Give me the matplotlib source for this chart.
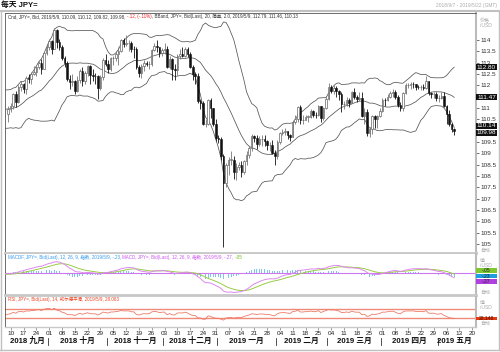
import numpy as np
import pandas as pd
import matplotlib
matplotlib.use("Agg")
import matplotlib.pyplot as plt
import matplotlib.transforms as mtrans
from matplotlib.patches import Rectangle
from matplotlib.lines import Line2D

# ---------------- data (JPY= daily, 2018/9/7 - 2019/5/9) ----------------
start_date = "2018-09-07"
end_date = "2019-05-09"
axis_end_date = "2019-05-24"

open_ = [110.72, 110.97, 111.10, 111.62, 111.28, 111.92, 112.06, 111.85, 112.33, 112.28,
         112.49, 112.59, 112.80, 112.97, 112.72, 113.42,
         113.69, 113.94, 113.62, 114.45, 113.92, 113.71, 113.22, 112.97, 112.28, 112.16,
         112.20, 111.76, 112.25, 112.65, 112.18, 112.54, 112.84, 112.44, 112.41, 112.40,
         111.90, 112.36, 113.11,
         112.93, 112.72, 113.20, 113.21, 113.40, 113.53, 113.99, 113.82, 113.85, 113.85,
         113.61, 113.59, 112.82, 112.55, 112.83, 113.00, 112.93, 112.96, 113.55, 113.75,
         113.67, 113.44,
         113.55, 113.60, 112.80, 113.18, 112.70, 112.67, 113.30, 113.37, 113.31, 113.60,
         113.38, 112.82, 112.50, 112.43, 111.30, 111.22, 110.28, 110.30, 111.35, 110.98,
         110.28,
         109.69, 109.62, 108.88, 107.68, 108.48, 108.72, 108.72, 108.16, 108.40, 108.50,
         108.18, 108.66, 108.94, 109.22, 109.78, 109.66, 109.39, 109.62, 109.63, 109.54,
         109.35, 109.38, 109.03,
         108.88, 109.50, 109.90, 109.96, 109.97, 109.80, 109.73, 110.40, 110.50, 111.05,
         110.47, 110.47, 110.62, 110.62, 110.85, 110.70, 110.69, 111.07, 110.56, 111.00,
         111.39, 111.92, 111.75, 111.88, 111.75, 111.60, 111.16, 111.18, 111.35, 111.21,
         111.70, 111.48, 111.41, 111.43, 110.65, 110.83, 109.91, 110.07, 110.64, 110.50,
         110.64,
         110.85, 111.35, 111.34, 111.49, 111.64, 111.72, 111.47, 111.14, 110.99, 111.64,
         112.00, 112.02, 112.06, 112.04, 111.93, 111.92, 111.93, 111.87, 112.19, 111.64,
         111.60, 111.62,
         111.42, 111.42, 111.52, 111.10, 110.72, 110.28, 110.09]
high = [111.09, 111.22, 111.65, 111.73, 112.00, 112.17, 112.12, 112.40, 112.50, 112.60,
        112.87, 112.83, 113.05, 113.14, 113.48, 113.82,
        114.05, 114.01, 114.55, 114.50, 114.05, 113.80, 113.30, 113.05, 112.45, 112.50,
        112.25, 112.40, 112.73, 112.80, 112.62, 112.90, 112.90, 112.70, 112.55, 112.45,
        112.45, 113.20, 113.38,
        113.10, 113.25, 113.30, 113.50, 113.70, 114.05, 114.09, 114.20, 114.00, 113.95,
        113.75, 113.68, 112.90, 112.95, 113.10, 113.05, 113.05, 113.60, 113.85, 114.00,
        113.70, 113.65,
        113.85, 113.75, 113.30, 113.20, 112.95, 113.40, 113.60, 113.70, 113.70, 113.70,
        113.45, 112.90, 112.60, 112.55, 111.40, 111.30, 110.50, 111.40, 111.45, 111.00,
        110.50,
        109.80, 109.70, 108.95, 108.55, 108.85, 109.10, 108.90, 108.55, 108.60, 108.65,
        108.70, 109.10, 109.30, 109.85, 109.80, 109.80, 109.75, 109.80, 109.80, 109.60,
        109.50, 109.60, 109.15,
        109.60, 109.95, 110.05, 110.10, 110.00, 109.85, 110.45, 110.70, 111.10, 111.15,
        110.70, 110.70, 110.70, 110.95, 110.90, 110.80, 111.15, 111.10, 111.05, 111.50,
        112.10, 112.00, 112.00, 111.95, 111.80, 111.70, 111.30, 111.50, 111.45, 111.75,
        111.90, 111.55, 111.70, 111.70, 111.00, 110.95, 110.15, 110.70, 110.70, 110.70,
        111.00,
        111.45, 111.45, 111.60, 111.75, 111.85, 111.80, 111.55, 111.25, 111.70, 112.10,
        112.10, 112.15, 112.15, 112.05, 112.00, 112.00, 112.05, 112.40, 112.20, 111.70,
        111.70, 111.70,
        111.55, 111.70, 111.70, 111.15, 110.90, 110.35, 110.12]
low = [110.38, 110.80, 110.95, 111.05, 111.20, 111.77, 111.65, 111.60, 112.10, 112.05,
       112.45, 112.40, 112.72, 112.50, 112.70, 113.34,
       113.54, 113.40, 113.60, 113.65, 113.57, 113.10, 112.80, 112.20, 111.83, 111.95,
       111.62, 111.70, 112.10, 111.95, 112.05, 112.40, 112.05, 112.20, 112.05, 111.38,
       111.78, 112.25, 112.85,
       112.56, 112.65, 112.90, 113.05, 112.90, 113.45, 113.70, 113.75, 113.50, 113.45,
       113.20, 112.70, 112.35, 112.30, 112.65, 112.85, 112.70, 112.85, 113.50, 113.45,
       113.25, 113.30,
       113.40, 112.75, 112.70, 112.25, 112.25, 112.45, 113.15, 113.25, 113.25, 113.25,
       112.75, 112.25, 112.05, 111.20, 110.95, 110.25, 110.15, 110.25, 110.55, 110.20,
       109.55,
       109.45, 108.70, 104.87, 107.50, 108.05, 108.50, 107.85, 107.80, 108.25, 107.95,
       108.10, 108.50, 108.80, 109.10, 109.50, 109.20, 109.30, 109.30, 109.30, 109.15,
       109.10, 108.95, 108.50,
       108.75, 109.40, 109.80, 109.80, 109.65, 109.55, 109.70, 110.30, 110.40, 110.30,
       110.30, 110.45, 110.40, 110.55, 110.60, 110.55, 110.65, 110.40, 110.45, 110.95,
       111.35, 111.65, 111.60, 111.50, 111.35, 110.80, 110.95, 111.10, 111.05, 111.20,
       111.40, 111.25, 111.30, 110.60, 110.30, 109.75, 109.70, 109.85, 110.10, 110.10,
       110.60,
       110.80, 111.10, 111.30, 111.45, 111.50, 111.40, 111.05, 110.85, 110.85, 111.60,
       111.90, 111.85, 111.90, 111.80, 111.85, 111.80, 111.80, 111.85, 111.55, 111.45,
       111.45, 111.30,
       111.25, 111.40, 111.05, 110.30, 110.20, 109.95, 109.82]
close = [110.97, 111.10, 111.62, 111.28, 111.92, 112.06, 111.85, 112.33, 112.28, 112.49,
         112.59, 112.80, 112.97, 112.72, 113.42, 113.69,
         113.94, 113.62, 114.45, 113.92, 113.71, 113.22, 112.97, 112.28, 112.16, 112.20,
         111.76, 112.25, 112.65, 112.18, 112.54, 112.84, 112.44, 112.41, 112.40, 111.90,
         112.36, 113.11, 112.93,
         112.72, 113.20, 113.21, 113.40, 113.53, 113.99, 113.82, 113.85, 113.85, 113.61,
         113.59, 112.82, 112.55, 112.83, 113.00, 112.93, 112.96, 113.55, 113.75, 113.67,
         113.44, 113.55,
         113.60, 112.80, 113.18, 112.70, 112.67, 113.30, 113.37, 113.31, 113.60, 113.38,
         112.82, 112.50, 112.43, 111.30, 111.22, 110.28, 110.30, 111.35, 110.98, 110.28,
         109.69,
         109.62, 108.88, 107.68, 108.48, 108.72, 108.72, 108.16, 108.40, 108.50, 108.18,
         108.66, 108.94, 109.22, 109.78, 109.66, 109.39, 109.62, 109.63, 109.54, 109.35,
         109.38, 109.03, 108.88,
         109.50, 109.90, 109.96, 109.97, 109.80, 109.73, 110.40, 110.50, 111.05, 110.47,
         110.47, 110.62, 110.62, 110.85, 110.70, 110.69, 111.07, 110.56, 111.00, 111.39,
         111.92, 111.75, 111.88, 111.75, 111.60, 111.16, 111.18, 111.35, 111.21, 111.70,
         111.48, 111.41, 111.43, 110.65, 110.83, 109.91, 110.07, 110.64, 110.50, 110.64,
         110.85,
         111.35, 111.34, 111.49, 111.64, 111.72, 111.47, 111.14, 110.99, 111.64, 112.00,
         112.02, 112.06, 112.04, 111.93, 111.92, 111.93, 111.87, 112.19, 111.64, 111.60,
         111.62, 111.42,
         111.42, 111.52, 111.10, 110.72, 110.28, 110.09, 109.98]

# closes before the visible window (2018/8/1 - 2018/9/6), used to warm up indicators
warmup_close = [111.70, 111.67, 111.25, 111.39, 111.38, 110.97, 111.07, 110.87, 110.77,
                111.16, 110.74, 110.90, 110.50, 110.04, 110.09, 110.55, 111.29, 111.24,
                111.07, 111.20, 111.69, 111.00, 111.03, 111.07, 111.48, 111.54, 110.73]

month_names = ["一月", "二月", "三月", "四月", "五月", "六月",
               "七月", "八月", "九月", "十月", "十一月", "十二月"]

# ---------------- indicators ----------------
axis_dates = pd.bdate_range(start_date, axis_end_date)
n = len(close)
nw = len(warmup_close)
allc = pd.Series(warmup_close + close)
xs_all = np.arange(-nw, n)

mid = allc.rolling(20).mean()
sd = allc.rolling(20).std(ddof=0)
upper = mid + 2.0 * sd
lower = mid - 2.0 * sd

ema12 = allc.ewm(span=12, adjust=False).mean()
ema26 = allc.ewm(span=26, adjust=False).mean()
macd = ema12 - ema26
signal = macd.ewm(span=9, adjust=False).mean()
hist = macd - signal

delta = allc.diff()
gain = delta.clip(lower=0).ewm(alpha=1 / 14, adjust=False).mean()
loss = (-delta.clip(upper=0)).ewm(alpha=1 / 14, adjust=False).mean()
rsi = 100 - 100 / (1 + gain / loss)

vis = xs_all >= -2

# ---------------- figure ----------------
W, H = 500, 352
FAM = ["Liberation Sans", "Noto Sans CJK SC"]
plt.rcParams["font.family"] = FAM
fig = plt.figure(figsize=(W / 100, H / 100), dpi=100)
fig.patch.set_facecolor("white")


def px_axes(l, t, r, b):
    return fig.add_axes([l / W, 1 - b / H, (r - l) / W, (b - t) / H])


def ftext(x, y, s, **kw):
    kw.setdefault("va", "center")
    kw.setdefault("ha", "left")
    return fig.text(x / W, 1 - y / H, s, **kw)


def fline(x0, y0, x1, y1, **kw):
    fig.add_artist(Line2D([x0 / W, x1 / W], [1 - y0 / H, 1 - y1 / H],
                          transform=fig.transFigure, **kw))


ax = px_axes(5, 13, 476, 253)
axm = px_axes(5, 254, 476, 295)
axr = px_axes(5, 297, 476, 327)

XL = (-1.225, 182.5)
for a in (ax, axm, axr):
    a.set_xlim(*XL)
    a.set_facecolor("white")
    for s in a.spines.values():
        s.set_linewidth(0.6)
    a.spines["left"].set_color("#555555")
    a.spines["right"].set_color("#bbbbbb")
    a.spines["right"].set_linewidth(1.5)
    a.spines["top"].set_visible(False)
    a.spines["bottom"].set_color("#c8c8c8")
    a.spines["bottom"].set_linewidth(2)
ax.spines["top"].set_visible(True)
ax.spines["top"].set_color("#555555")
axr.spines["bottom"].set_linewidth(1)

# ---- price panel ----
ax.set_ylim(104.60, 115.19)
xi = np.arange(n)
o = np.array(open_); h = np.array(high); l = np.array(low); c = np.array(close)
up = c >= o
ax.vlines(xi[up], l[up], h[up], color="#777777", lw=0.6, zorder=2)
ax.vlines(xi[~up], l[~up], h[~up], color="#111111", lw=0.6, zorder=2)
bw = 0.62
ax.bar(xi[up], np.maximum(c[up] - o[up], 0.02), bottom=o[up], width=bw,
       facecolor="white", edgecolor="#666666", lw=0.5, zorder=3)
ax.bar(xi[~up], o[~up] - c[~up], bottom=c[~up], width=bw,
       facecolor="#111111", edgecolor="#111111", lw=0.4, zorder=3)
for band in (upper, mid, lower):
    ax.plot(xs_all[vis], band[vis], color="#555555", lw=0.55, zorder=1)


def stacked(vals, sep):
    # spread labels so they do not overlap (sep in data units)
    order = np.argsort(vals)[::-1]
    res = np.array(vals, dtype=float)[order]
    for _ in range(50):
        changed = False
        for k in range(1, len(res)):
            if res[k - 1] - res[k] < sep - 1e-9:
                m = (res[k - 1] + res[k]) / 2
                res[k - 1] = m + sep / 2
                res[k] = m - sep / 2
                changed = True
        if not changed:
            break
    out = np.empty_like(res)
    out[order] = res
    return out


def side_boxes(a, vals, labels, faces, tcolors, sep, hdata, fs):
    tr = mtrans.blended_transform_factory(a.transAxes, a.transData)
    wfrac = 21 / 471
    pos = stacked(vals, sep)
    for v, lab, fc, tc in zip(pos, labels, faces, tcolors):
        a.add_patch(Rectangle((1.0, v - hdata / 2), wfrac, hdata, transform=tr,
                              facecolor=fc, edgecolor="none", clip_on=False, zorder=5))
        a.text(1.0 + wfrac / 2, v, lab, transform=tr, ha="center", va="center",
               fontsize=fs, color=tc, clip_on=False, zorder=6)
    return pos


pv = [upper.iloc[-1], mid.iloc[-1], lower.iloc[-1], close[-1]]
box_pos = side_boxes(ax, pv, [f"{v:.2f}" for v in pv], ["#111111"] * 4, ["white"] * 4,
                     0.31, 0.27, 4.6)

ax.set_xticks([])
ax.yaxis.tick_right()
yt = np.arange(105, 114.01, 0.5)
ax.set_yticks(yt)
# labels hidden behind the value boxes are left blank
ax.set_yticklabels(["" if np.min(np.abs(box_pos - v)) < 0.2 else f"{v:g}" for v in yt])
ax.tick_params(axis="y", direction="out", length=2, width=0.6, color="#555555",
               labelsize=4.6, pad=1, labelcolor="#333333")

# ---- MACD panel ----
axm.set_ylim(-1.34, 1.18)
axm.bar(xs_all[vis], hist[vis], width=0.35, color="#7cc4ee", zorder=1)
axm.axhline(0, color="#cc77ee", lw=0.8, zorder=2)
axm.plot(xs_all[vis], signal[vis], color="#99cc44", lw=0.7, zorder=3)
axm.plot(xs_all[vis], macd[vis], color="#dd88ee", lw=0.7, zorder=4)
axm.set_xticks([]); axm.set_yticks([])
mv = [signal.iloc[-1], hist.iloc[-1], macd.iloc[-1]]
side_boxes(axm, mv, ["-.05", "-.23", "-.27"], ["#80c830", "#1e9ee0", "#b040e0"],
           ["#222222", "#222222", "#222222"], 0.34, 0.28, 3.6)

# ---- RSI panel ----
axr.set_ylim(-10, 123.3)
axr.axhline(70, color="#f08a78", lw=1.0, zorder=1)
axr.axhline(30, color="#f08a78", lw=1.0, zorder=1)
axr.plot(xs_all[vis], rsi[vis], color="#f07a66", lw=0.6, zorder=2)
axr.set_yticks([])
side_boxes(axr, [rsi.iloc[-1]], [f"{rsi.iloc[-1]:.3f}"], ["#e83a10"], ["#441100"],
           10, 14, 3.6)

# x axis: weekly Monday ticks
mon_idx = [k for k, d in enumerate(axis_dates) if d.weekday() == 0]
axr.set_xticks(mon_idx)
axr.set_xticklabels([axis_dates[k].strftime("%d") for k in mon_idx])
axr.tick_params(axis="x", direction="out", length=2, width=0.5, color="#777777",
                labelsize=4.6, pad=1.2, labelcolor="#222222")

trm = mtrans.blended_transform_factory(axr.transData, fig.transFigure)
last_tick = mon_idx[-1]
months = sorted(set((d.year, d.month) for d in axis_dates))
for yy, mm in months:
    ks = [k for k, d in enumerate(axis_dates) if d.year == yy and d.month == mm]
    a0 = max(ks[0] - 0.5, XL[0])
    a1 = min(ks[-1] + 0.5, last_tick)
    axr.text((a0 + a1) / 2, 1 - 341 / H, f"{yy} {month_names[mm - 1]}", transform=trm,
             ha="center", va="center", fontsize=5.6, fontweight="bold", color="#111111",
             clip_on=False)
    if ks[0] > 0:
        axr.add_line(Line2D([ks[0] - 0.5, ks[0] - 0.5], [1 - 337.5 / H, 1 - 344.5 / H],
                            transform=trm, color="#333333", lw=0.6, clip_on=False))

# ---------------- texts & frame ----------------
fline(0, 11, 500, 11, color="#c0c0c0", lw=1.5)
fline(1, 11, 1, 350, color="#c0c0c0", lw=1.0)
fline(499, 11, 499, 350, color="#c0c0c0", lw=1.0)
fline(0, 350, 500, 350, color="#c0c0c0", lw=1.0)

ftext(1, 5.5, "每天 JPY=", fontsize=5.6, fontweight="bold", color="#111111")
ftext(497, 6, "2018/9/7 - 2019/5/22 (GMT)", ha="right", fontsize=3.5, color="#aaaaaa")

renderer = fig.canvas.get_renderer()


def colored(x, y, parts, fs):
    for s, col in parts:
        t = ftext(x, y, s, fontsize=fs, color=col)
        bb = t.get_window_extent(renderer=renderer)
        x += bb.width


colored(8, 16.5, [("Cnd, JPY=, Bid, 2019/5/9, 110.09, 110.12, 109.82, 109.98, ", "#333333"),
                  ("-.12, (-.11%)", "#ee2222"),
                  (", BBand, JPY=, Bid(Last), 20, 简单, 2.0, 2019/5/9, 112.79, 111.46, 110.13",
                   "#333333")], 3.25)
colored(8, 257.5, [("MACDF, JPY=, Bid(Last), 12, 26, 9, 指数, 2019/5/9, -.23, ", "#3399ee"),
                   ("MACD, JPY=, Bid(Last), 12, 26, 9, 指数, 2019/5/9, -.27, ", "#cc55ee"),
                   ("-.05", "#77bb22")], 3.25)
colored(8, 299.8, [("RSI, JPY=, Bid(Last), 14, 威尔德平滑, 2019/5/9, 28.063", "#ee4422")], 3.25)

gray = "#aaaaaa"
for (yy, s) in [(20.5, "价格"), (25.5, "/USD"), (250, "自动"),
                (261, "值"), (265.5, "/USD"), (292, "自动"),
                (303, "值"), (307.5, "/USD"), (323.5, "自动")]:
    ftext(480, yy, s, fontsize=3.6, color=gray)

fig.savefig("out.png", dpi=100, facecolor="white")
